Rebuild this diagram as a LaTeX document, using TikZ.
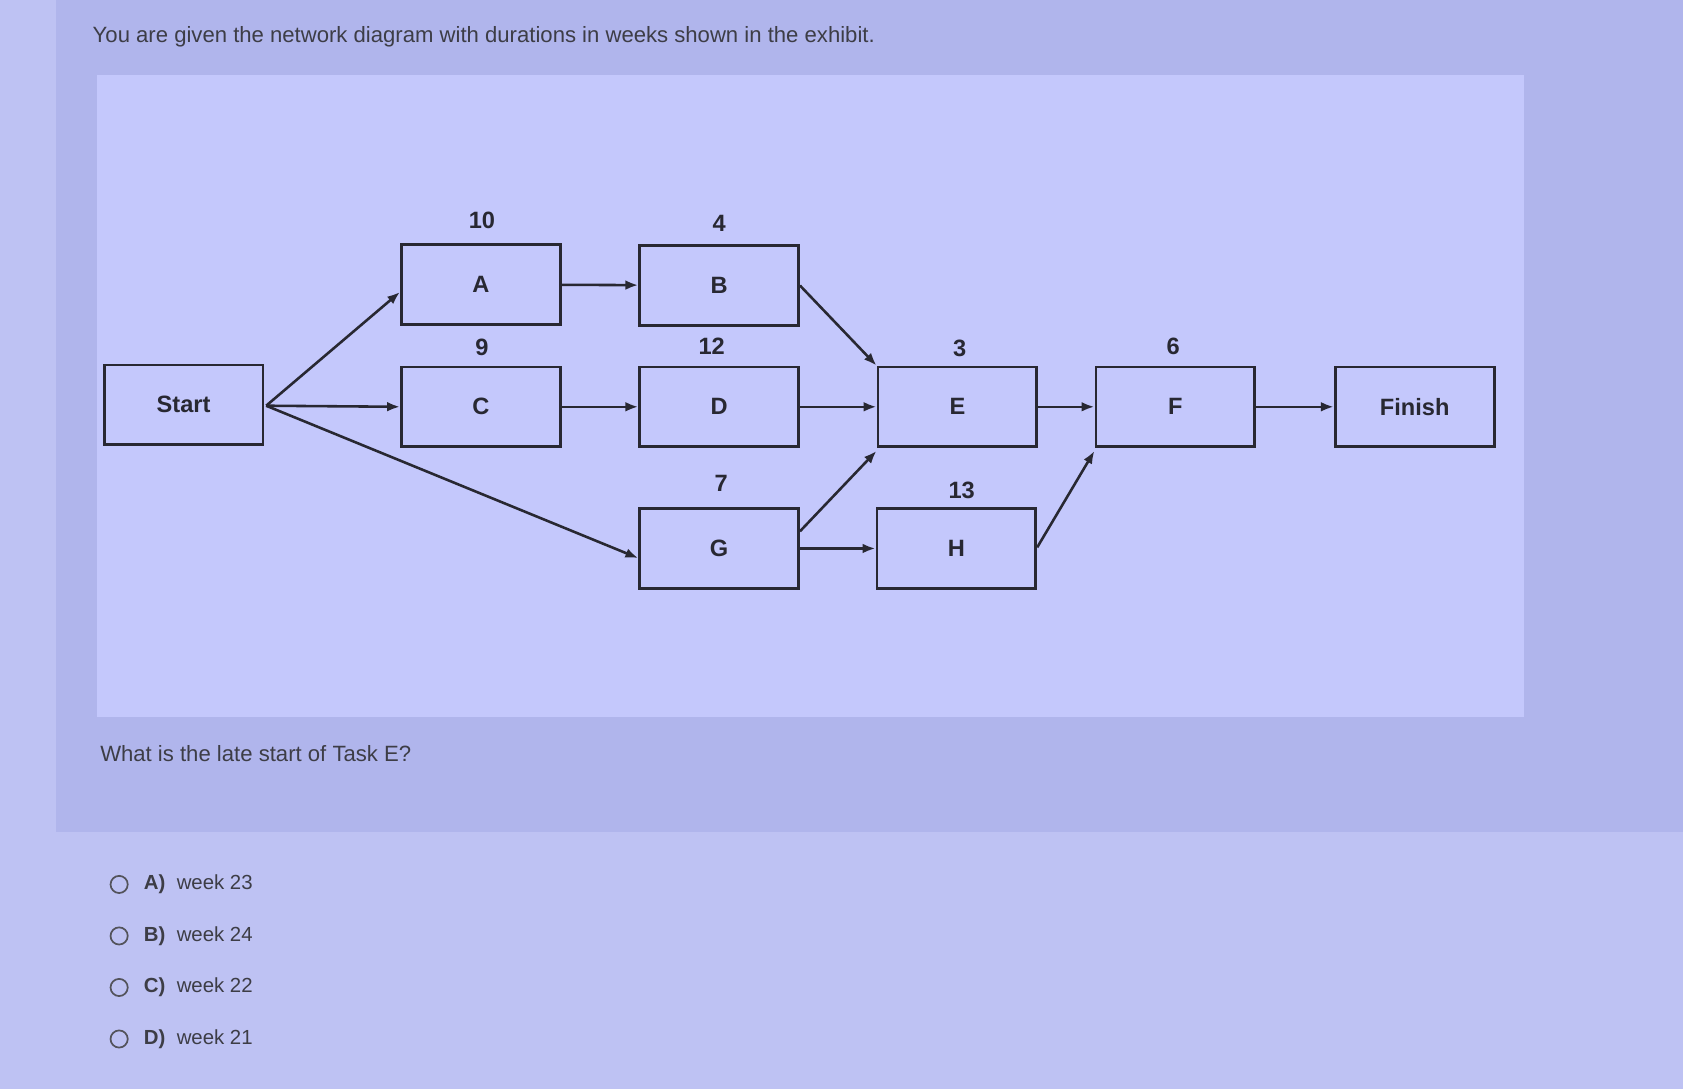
\documentclass[tikz,border=0pt]{standalone}
\usepackage{fontspec}
\setmainfont{Liberation Sans}
\usetikzlibrary{arrows.meta}
\definecolor{bgA}{RGB}{190,194,243}
\definecolor{bgB}{RGB}{176,181,236}
\definecolor{bgC}{RGB}{196,200,252}
\definecolor{ink}{RGB}{40,40,50}
\tikzset{
 task/.style={draw=ink,line width=1.3pt,minimum width=74pt,minimum height=37pt,inner sep=0pt,font=\fontsize{11}{13}\selectfont\bfseries,text=ink},
 dur/.style={font=\fontsize{11}{13}\selectfont\bfseries,text=ink},
 conn/.style={draw=ink,line width=1.2pt,-{Latex[length=6pt,width=4.5pt]}},
 txt/.style={font=\fontsize{10.3}{12}\selectfont,text=ink!90,anchor=west,inner sep=0pt},
 opt/.style={font=\fontsize{9.5}{11}\selectfont,text=ink!90,anchor=west}
}
\begin{document}
\begin{tikzpicture}[x=0.5pt,y=-0.5pt]
\fill[bgA] (0,0) rectangle (1568,1015);
\fill[bgB] (52,0) rectangle (1568,775);
\fill[bgC] (90,70) rectangle (1420,668);
\useasboundingbox (0,0) rectangle (1568,1015);
\node[txt] (q) at (86,34) {You are given the network diagram with durations in weeks shown in the exhibit.};
\node[task] (S) at (171,377) {Start};
\node[task] (A) at (448,265) {A};
\node[task] (C) at (448,379) {C};
\node[task] (B) at (670,266) {B};
\node[task] (D) at (670,379) {D};
\node[task] (G) at (670,511) {G};
\node[task] (E) at (892,379) {E};
\node[task] (H) at (891,511) {H};
\node[task] (F) at (1095,379) {F};
\node[task] (Fin) at (1318,379) {Finish};
\node[dur] (dA) at (449,205) {10};
\node[dur] (dC) at (449,324) {9};
\node[dur] (dB) at (670,208) {4};
\node[dur] (dD) at (663,323) {12};
\node[dur] (dG) at (672,450) {7};
\node[dur] (dE) at (894,325) {3};
\node[dur] (dH) at (896,457) {13};
\node[dur] (dF) at (1093,323) {6};
\coordinate (so) at (248,378);
\draw[conn] (so) -- (A.west|-0,272) ;
\draw[conn] (so) -- (C.west);
\draw[conn] (so) -- (G.west|-0,520);
\draw[conn] (A) -- (B);
\draw[conn] (C) -- (D);
\draw[conn] (B.east|-0,266) -- (E.north west);
\draw[conn] (D) -- (E);
\draw[conn] (G.east|-0,495) -- (E.south west|-0,420);
\draw[conn] (G) -- (H);
\draw[conn] (E) -- (F);
\draw[conn] (H.east|-0,510) -- (F.south west|-0,420);
\draw[conn] (F) -- (Fin);
\node[txt] (q2) at (93,702) {What is the late start of Task E?};
\foreach \y/\l/\t in {824/A/23,872/B/24,920/C/22,968/D/21}{
 \draw[ink!80,line width=0.8pt] (111,\y) circle (8);
 \node[opt] at (127,\y) {\textbf{\l)}\ \ week \t};
}
\end{tikzpicture}
\end{document}
